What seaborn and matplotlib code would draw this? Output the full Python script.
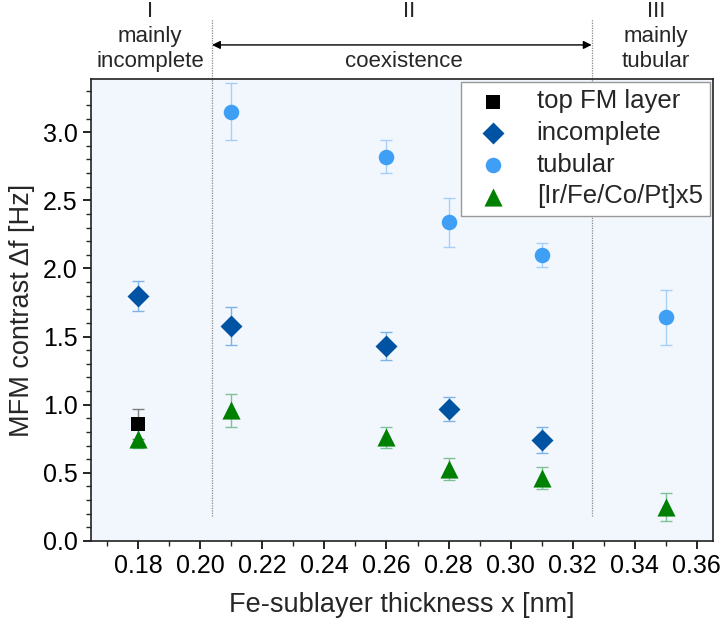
import matplotlib
matplotlib.use("Agg")
import matplotlib.pyplot as plt
from matplotlib.ticker import MultipleLocator
import seaborn as sns
import pandas as pd

# ---- data ----
fm_x = [0.18]
fm_y = [0.86]
fm_err = [0.11]

inc_x = [0.18, 0.21, 0.26, 0.28, 0.31]
inc_y = [1.80, 1.58, 1.43, 0.97, 0.74]
inc_err = [0.11, 0.14, 0.10, 0.09, 0.095]

tub_x = [0.21, 0.26, 0.28, 0.31, 0.35]
tub_y = [3.15, 2.82, 2.34, 2.10, 1.64]
tub_err = [0.21, 0.12, 0.18, 0.09, 0.20]

ml_x = [0.18, 0.21, 0.26, 0.28, 0.31, 0.35]
ml_y = [0.75, 0.96, 0.76, 0.53, 0.46, 0.25]
ml_err = [0.07, 0.12, 0.075, 0.08, 0.08, 0.10]

labels = ["top FM layer", "incomplete", "tubular", "[Ir/Fe/Co/Pt]x5"]
colors = ["#000000", "#0052a3", "#3f9ff5", "#008000"]
err_colors = ["#7f7f7f", "#7fb3e6", "#a6d0fa", "#7fc09a"]
markers = ["s", "D", "o", "^"]
sizes = [110, 125, 125, 170]

boundaries = [0.2038, 0.3261]
region_titles = ["I", "II", "III"]

series = [(fm_x, fm_y, fm_err), (inc_x, inc_y, inc_err),
          (tub_x, tub_y, tub_err), (ml_x, ml_y, ml_err)]

sns.set_style("ticks")
plt.rcParams['font.family'] = ['Liberation Sans', 'DejaVu Sans']

fig = plt.figure(figsize=(7.24, 6.26), dpi=100)
ax = fig.add_axes([91 / 724, 1 - 541 / 626, 622 / 724, 462 / 626])
ax.set_facecolor("#f2f7fd")

for (xs, ys, es), lab, c, ec, m, s in zip(series, labels, colors, err_colors, markers, sizes):
    df = pd.DataFrame({"x": xs, "y": ys})
    ax.errorbar(xs, ys, yerr=es, fmt="none", ecolor=ec, elinewidth=1.0,
                capsize=4.5, capthick=1.0, zorder=2)
    sns.scatterplot(data=df, x="x", y="y", ax=ax, color=c, marker=m, s=s,
                    linewidth=0, label=lab, zorder=3)

ax.set_xlim(0.1648, 0.3652)
ax.set_ylim(0, 3.39)
ax.xaxis.set_major_locator(MultipleLocator(0.02))
ax.xaxis.set_minor_locator(MultipleLocator(0.01))
ax.yaxis.set_major_locator(MultipleLocator(0.5))
ax.yaxis.set_minor_locator(MultipleLocator(0.1))
ax.xaxis.set_major_formatter(matplotlib.ticker.FormatStrFormatter("%.2f"))
ax.yaxis.set_major_formatter(matplotlib.ticker.FormatStrFormatter("%.1f"))
ax.tick_params(which="major", direction="out", length=6, width=1.2, labelsize=18, colors="black")
ax.tick_params(which="minor", direction="out", length=3.5, width=1.0)
for sp in ax.spines.values():
    sp.set_linewidth(1.2)
    sp.set_color("#222222")

ax.set_xlabel("Fe-sublayer thickness x [nm]", fontsize=19.5, labelpad=10)
ax.set_ylabel("MFM contrast \u0394f [Hz]", fontsize=19.5, labelpad=6)

# region boundaries
for b in boundaries:
    ax.plot([b, b], [0.18, 3.83], color="#8c8c8c", lw=0.9, linestyle=(0, (1, 1)),
            clip_on=False, zorder=1)

ax.annotate("", xy=(boundaries[1], 3.64), xytext=(boundaries[0], 3.64),
            arrowprops=dict(arrowstyle="<|-|>", color="black", lw=1.0, mutation_scale=12,
                            shrinkA=0, shrinkB=0),
            annotation_clip=False)

tfs = 16
ax.text(0.1838, 3.885, region_titles[0], ha="center", va="center", fontsize=tfs, clip_on=False)
ax.text(0.1838, 3.70, "mainly", ha="center", va="center", fontsize=tfs, clip_on=False)
ax.text(0.1838, 3.517, "incomplete", ha="center", va="center", fontsize=tfs, clip_on=False)
ax.text(0.2672, 3.885, region_titles[1], ha="center", va="center", fontsize=tfs, clip_on=False)
ax.text(0.2655, 3.517, "coexistence", ha="center", va="center", fontsize=tfs, clip_on=False)
ax.text(0.3468, 3.885, region_titles[2], ha="center", va="center", fontsize=tfs, clip_on=False)
ax.text(0.3468, 3.70, "mainly", ha="center", va="center", fontsize=tfs, clip_on=False)
ax.text(0.3468, 3.517, "tubular", ha="center", va="center", fontsize=tfs, clip_on=False)

leg = ax.legend(loc="upper right", fontsize=18.5, frameon=True, fancybox=False,
                borderaxespad=0.1, labelspacing=0.3, handletextpad=0.75,
                borderpad=0.3, handlelength=1.9)
leg.get_frame().set_edgecolor("#999999")
leg.get_frame().set_facecolor("white")
leg.get_frame().set_alpha(1)
leg.get_frame().set_linewidth(1.0)

fig.savefig("out.png", dpi=100)
